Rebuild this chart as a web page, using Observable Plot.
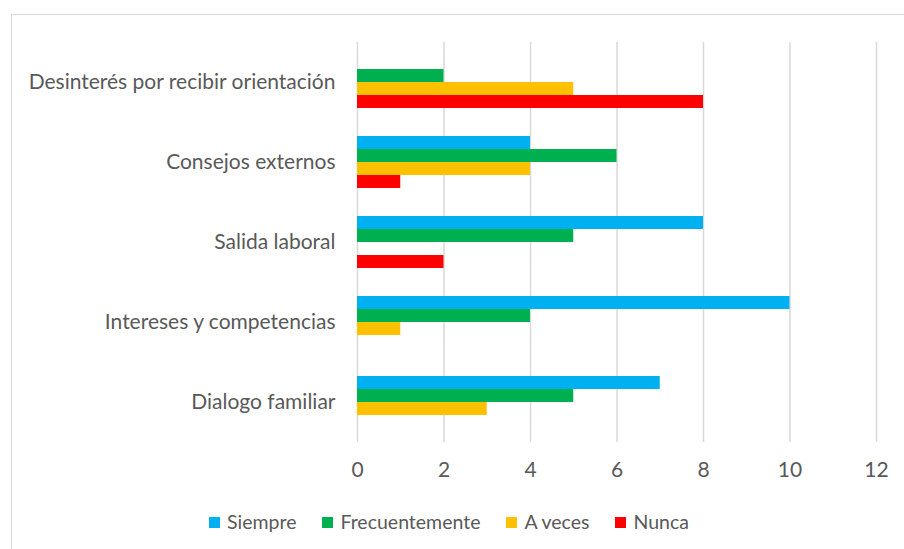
<!DOCTYPE html>
<html>
<head>
<meta charset="utf-8">
<script src="https://cdn.jsdelivr.net/npm/d3@7"></script>
<script src="https://cdn.jsdelivr.net/npm/@observablehq/plot@0.6"></script>
<style>
  html, body { margin: 0; padding: 0; background: #fff; width: 904px; height: 549px; overflow: hidden; }
  body { font-family: Lato, "Open Sans", sans-serif; position: relative; }
  #frame { position: absolute; left: 11px; top: 14px; width: 920px; height: 545px; border: 1.5px solid #d9d9d9; box-sizing: border-box; }
  #chart { position: absolute; left: 0; top: 0; }
  #legend { position: absolute; left: 0; width: 904px; top: 510px; display: flex; justify-content: center; gap: 26px; font-size: 19.5px; color: #595959; padding-right: 6px; box-sizing: border-box; }
  .item { display: flex; align-items: center; gap: 7px; line-height: 24px; }
  .sw { width: 11px; height: 11px; display: inline-block; }
</style>
</head>
<body>
<div id="frame"></div>
<div id="chart"></div>
<div id="legend"></div>
<script>
const categories = ["Desinterés por recibir orientación", "Consejos externos", "Salida laboral", "Intereses y competencias", "Dialogo familiar"];
const seriesNames = ["Siempre", "Frecuentemente", "A veces", "Nunca"];
const colors = ["#00B0F0", "#00B050", "#FFC000", "#FF0000"];
const siempre        = [0, 4, 8, 10, 7];
const frecuentemente = [2, 6, 5, 4, 5];
const aVeces         = [5, 4, 0, 1, 3];
const nunca          = [8, 1, 2, 0, 0];
const xTicks = [0, 2, 4, 6, 8, 10, 12];

const seriesValues = [siempre, frecuentemente, aVeces, nunca];
const data = [];
categories.forEach((c, i) => {
  seriesNames.forEach((s, j) => {
    data.push({category: c, series: s, value: seriesValues[j][i]});
  });
});

const chart = Plot.plot({
  width: 904,
  height: 490,
  marginLeft: 357,
  marginRight: 28,
  marginTop: 42,
  marginBottom: 48,
  style: {fontFamily: "Lato, 'Open Sans', sans-serif", color: "#595959", background: "transparent"},
  x: {domain: [0, 12], ticks: xTicks, label: null},
  y: {domain: seriesNames, paddingInner: 0, paddingOuter: 0.963, axis: null},
  fy: {domain: categories, padding: 0, label: null, axis: null},
  color: {domain: seriesNames, range: colors},
  marks: [
    Plot.ruleX(xTicks, {stroke: "#d9d9d9", strokeWidth: 1.5}),
    Plot.barX(data.filter(d => d.value > 0), {x: "value", y: "series", fy: "category", fill: "series"}),
    Plot.axisX({ticks: xTicks, tickSize: 0, tickPadding: 20, fontSize: 21, label: null, fill: "#595959"}),
    Plot.axisFy({anchor: "left", tickSize: 0, tickPadding: 22, fontSize: 21, label: null, fill: "#595959"})
  ]
});
document.getElementById("chart").appendChild(chart);

const legend = document.getElementById("legend");
seriesNames.forEach((s, i) => {
  const item = document.createElement("div");
  item.className = "item";
  const sw = document.createElement("span");
  sw.className = "sw";
  sw.style.background = colors[i];
  const t = document.createElement("span");
  t.textContent = s;
  item.appendChild(sw);
  item.appendChild(t);
  legend.appendChild(item);
});
</script>
</body>
</html>
